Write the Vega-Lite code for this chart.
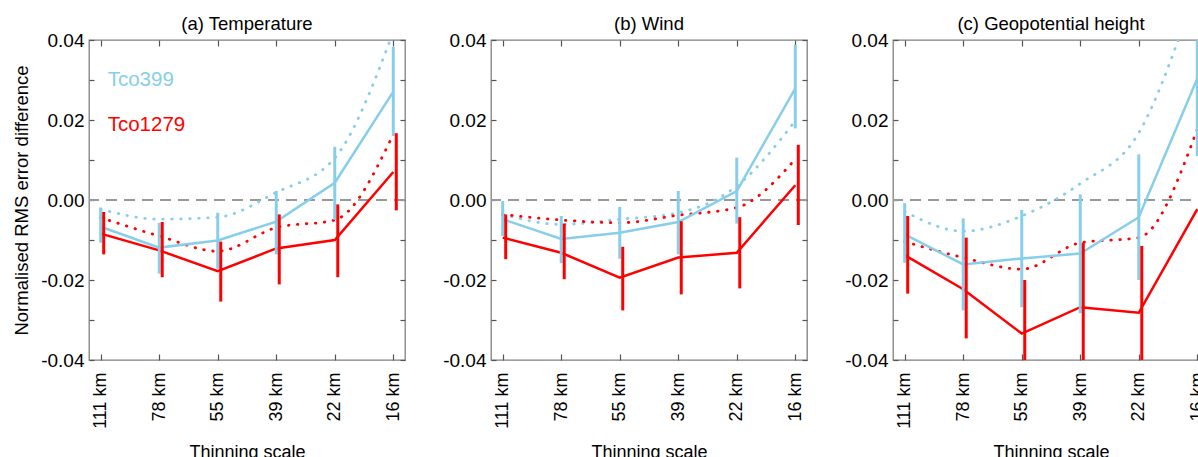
{
  "$schema": "https://vega.github.io/schema/vega-lite/v6.json",
  "autosize": {"type": "pad"},
  "padding": {"left": 12, "top": 13, "right": 0, "bottom": 0},
  "background": "white",
  "bounds": "flush",
  "spacing": 86,
  "config": {
    "font": "Liberation Sans",
    "view": {"stroke": "#808080", "strokeWidth": 1.3},
    "title": {"fontSize": 18.5, "fontWeight": "normal", "color": "black", "offset": -2, "baseline": "alphabetic", "anchor": "middle", "font": "Liberation Sans"},
    "axis": {"grid": false, "domain": false, "tickColor": "#555555", "tickWidth": 1.2, "labelColor": "black", "titleColor": "black", "titleFontWeight": "normal", "labelFont": "Liberation Sans", "titleFont": "Liberation Sans"}
  },
  "datasets": {
    "a": [
      {"model": "Tco399", "scale": "111 km", "mean": -0.0067, "lo": -0.0107, "hi": -0.0019, "dot": -0.0023},
      {"model": "Tco399", "scale": "78 km", "mean": -0.0119, "lo": -0.0184, "hi": -0.0057, "dot": -0.0048},
      {"model": "Tco399", "scale": "55 km", "mean": -0.0101, "lo": -0.0172, "hi": -0.0032, "dot": -0.0043},
      {"model": "Tco399", "scale": "39 km", "mean": -0.0054, "lo": -0.0136, "hi": 0.00225, "dot": 0.0019},
      {"model": "Tco399", "scale": "22 km", "mean": 0.0043, "lo": -0.0050, "hi": 0.0133, "dot": 0.0105},
      {"model": "Tco399", "scale": "16 km", "mean": 0.0271, "lo": 0.0160, "hi": 0.0383, "dot": 0.042},
      {"model": "Tco1279", "scale": "111 km", "mean": -0.0084, "lo": -0.0136, "hi": -0.0030, "dot": -0.0044},
      {"model": "Tco1279", "scale": "78 km", "mean": -0.0126, "lo": -0.0193, "hi": -0.0055, "dot": -0.0090},
      {"model": "Tco1279", "scale": "55 km", "mean": -0.0178, "lo": -0.0254, "hi": -0.0104, "dot": -0.0128},
      {"model": "Tco1279", "scale": "39 km", "mean": -0.0121, "lo": -0.0211, "hi": -0.0036, "dot": -0.0069},
      {"model": "Tco1279", "scale": "22 km", "mean": -0.0100, "lo": -0.0193, "hi": -0.0011, "dot": -0.0050},
      {"model": "Tco1279", "scale": "16 km", "mean": 0.0070, "lo": -0.0026, "hi": 0.0167, "dot": 0.0164}
    ],
    "b": [
      {"model": "Tco399", "scale": "111 km", "mean": -0.0048, "lo": -0.0090, "hi": -0.00025, "dot": -0.0036},
      {"model": "Tco399", "scale": "78 km", "mean": -0.00975, "lo": -0.0158, "hi": -0.0040, "dot": -0.0061},
      {"model": "Tco399", "scale": "55 km", "mean": -0.0082, "lo": -0.0147, "hi": -0.00175, "dot": -0.0048},
      {"model": "Tco399", "scale": "39 km", "mean": -0.0055, "lo": -0.0136, "hi": 0.00225, "dot": -0.0032},
      {"model": "Tco399", "scale": "22 km", "mean": 0.00225, "lo": -0.0059, "hi": 0.0106, "dot": 0.0035},
      {"model": "Tco399", "scale": "16 km", "mean": 0.0279, "lo": 0.0179, "hi": 0.0388, "dot": 0.0198},
      {"model": "Tco1279", "scale": "111 km", "mean": -0.0094, "lo": -0.0148, "hi": -0.0036, "dot": -0.0036},
      {"model": "Tco1279", "scale": "78 km", "mean": -0.0132, "lo": -0.0198, "hi": -0.0059, "dot": -0.0050},
      {"model": "Tco1279", "scale": "55 km", "mean": -0.0194, "lo": -0.0276, "hi": -0.0117, "dot": -0.0057},
      {"model": "Tco1279", "scale": "39 km", "mean": -0.0144, "lo": -0.0236, "hi": -0.0053, "dot": -0.0038},
      {"model": "Tco1279", "scale": "22 km", "mean": -0.0132, "lo": -0.0221, "hi": -0.0043, "dot": -0.0019},
      {"model": "Tco1279", "scale": "16 km", "mean": 0.0037, "lo": -0.00625, "hi": 0.0138, "dot": 0.0102}
    ],
    "c": [
      {"model": "Tco399", "scale": "111 km", "mean": -0.0086, "lo": -0.0157, "hi": -0.0008, "dot": -0.0029},
      {"model": "Tco399", "scale": "78 km", "mean": -0.0161, "lo": -0.0276, "hi": -0.0046, "dot": -0.0078},
      {"model": "Tco399", "scale": "55 km", "mean": -0.0146, "lo": -0.0268, "hi": -0.0025, "dot": -0.0040},
      {"model": "Tco399", "scale": "39 km", "mean": -0.0134, "lo": -0.0283, "hi": 0.0014, "dot": 0.0041},
      {"model": "Tco399", "scale": "22 km", "mean": -0.0043, "lo": -0.0200, "hi": 0.0114, "dot": 0.0168},
      {"model": "Tco399", "scale": "16 km", "mean": 0.0304, "lo": 0.0110, "hi": 0.0498, "dot": 0.054},
      {"model": "Tco1279", "scale": "111 km", "mean": -0.0138, "lo": -0.0234, "hi": -0.0040, "dot": -0.0104},
      {"model": "Tco1279", "scale": "78 km", "mean": -0.0223, "lo": -0.0346, "hi": -0.0094, "dot": -0.0144},
      {"model": "Tco1279", "scale": "55 km", "mean": -0.0334, "lo": -0.0468, "hi": -0.0200, "dot": -0.0173},
      {"model": "Tco1279", "scale": "39 km", "mean": -0.0268, "lo": -0.0429, "hi": -0.0107, "dot": -0.0107},
      {"model": "Tco1279", "scale": "22 km", "mean": -0.0282, "lo": -0.0449, "hi": -0.0115, "dot": -0.0094},
      {"model": "Tco1279", "scale": "16 km", "mean": -0.0023, "lo": -0.0205, "hi": 0.0156, "dot": 0.0177}
    ]
  },
  "hconcat": [
    {
      "width": 316, "height": 320,
      "title": {"text": "(a) Temperature"},
      "data": {"name": "a"},
      "resolve": {"axis": {"x": "independent", "y": "independent"}},
      "layer": [
        {
          "data": {"values": [{"z": 0}]},
          "mark": {"type": "rule", "color": "#999999", "strokeWidth": 2, "strokeDash": [11, 7]},
          "encoding": {"y": {"field": "z", "type": "quantitative", "scale": {"domain": [-0.04, 0.04], "nice": false, "zero": false}, "axis": null}}
        },
        {
          "mark": {"type": "line", "strokeDash": [0.5, 8.5], "strokeCap": "round", "strokeWidth": 2.8, "interpolate": "monotone", "clip": true},
          "encoding": {
            "x": {"field": "scale", "type": "ordinal", "sort": ["111 km", "78 km", "55 km", "39 km", "22 km", "16 km"], "scale": {"type": "point", "padding": 0.2},
              "axis": {"orient": "bottom", "title": "Thinning scale", "labelAngle": -90, "labelFontSize": 18, "tickSize": -6, "labelPadding": 18, "titleFontSize": 18, "titlePadding": 15}},
            "y": {"field": "dot", "type": "quantitative", "scale": {"domain": [-0.04, 0.04], "nice": false, "zero": false},
              "axis": {"orient": "left", "title": "Normalised RMS error difference", "titleFontSize": 18.5, "titlePadding": 9, "values": [-0.04, -0.03, -0.02, -0.01, 0, 0.01, 0.02, 0.03, 0.04], "labelExpr": "indexof([-0.04,-0.02,0,0.02,0.04], datum.value) >= 0 ? replace(format(datum.value, '.2f'), '\u2212', '-') : ''", "labelFontSize": 19, "tickSize": -5, "labelPadding": 10}},
            "color": {"field": "model", "type": "nominal", "scale": {"domain": ["Tco399", "Tco1279"], "range": ["#87CEEB", "#FF0000"]}, "legend": null}
          }
        },
        {
          "mark": {"type": "line", "strokeWidth": 2.5, "clip": true},
          "encoding": {
            "x": {"field": "scale", "type": "ordinal", "sort": ["111 km", "78 km", "55 km", "39 km", "22 km", "16 km"], "scale": {"type": "point", "padding": 0.2},
              "axis": {"orient": "top", "labels": false, "title": null, "tickSize": -6}},
            "y": {"field": "mean", "type": "quantitative", "scale": {"domain": [-0.04, 0.04], "nice": false, "zero": false},
              "axis": {"orient": "right", "labels": false, "title": null, "values": [-0.04, -0.03, -0.02, -0.01, 0, 0.01, 0.02, 0.03, 0.04], "tickSize": -5}},
            "color": {"field": "model", "type": "nominal", "scale": {"domain": ["Tco399", "Tco1279"], "range": ["#87CEEB", "#FF0000"]}, "legend": null}
          }
        },
        {
          "transform": [{"filter": "datum.model === 'Tco399'"}],
          "mark": {"type": "rule", "color": "#87CEEB", "strokeWidth": 3, "clip": true},
          "encoding": {
            "x": {"field": "scale", "type": "ordinal", "sort": ["111 km", "78 km", "55 km", "39 km", "22 km", "16 km"], "scale": {"type": "point", "padding": 0.2}, "axis": null},
            "y": {"field": "lo", "type": "quantitative", "scale": {"domain": [-0.04, 0.04], "nice": false, "zero": false}, "axis": null},
            "y2": {"field": "hi"}
          }
        },
        {
          "transform": [{"filter": "datum.model === 'Tco1279'"}],
          "mark": {"type": "rule", "color": "#FF0000", "strokeWidth": 3, "xOffset": 3, "clip": true},
          "encoding": {
            "x": {"field": "scale", "type": "ordinal", "sort": ["111 km", "78 km", "55 km", "39 km", "22 km", "16 km"], "scale": {"type": "point", "padding": 0.2}, "axis": null},
            "y": {"field": "lo", "type": "quantitative", "scale": {"domain": [-0.04, 0.04], "nice": false, "zero": false}, "axis": null},
            "y2": {"field": "hi"}
          }
        },
        {
          "data": {"values": [{"label": "Tco399", "yv": 0.0285}, {"label": "Tco1279", "yv": 0.01725}]},
          "mark": {"type": "text", "align": "left", "baseline": "alphabetic", "fontSize": 20.5, "dx": 7},
          "encoding": {
            "x": {"datum": "111 km", "type": "ordinal", "scale": {"type": "point", "padding": 0.2}, "axis": null},
            "y": {"field": "yv", "type": "quantitative", "scale": {"domain": [-0.04, 0.04], "nice": false, "zero": false}, "axis": null},
            "text": {"field": "label"},
            "color": {"field": "label", "type": "nominal", "scale": {"domain": ["Tco399", "Tco1279"], "range": ["#87CEEB", "#FF0000"]}, "legend": null}
          }
        }
      ]
    },
    {
      "width": 316, "height": 320,
      "title": {"text": "(b) Wind"},
      "data": {"name": "b"},
      "resolve": {"axis": {"x": "independent", "y": "independent"}},
      "layer": [
        {
          "data": {"values": [{"z": 0}]},
          "mark": {"type": "rule", "color": "#999999", "strokeWidth": 2, "strokeDash": [11, 7]},
          "encoding": {"y": {"field": "z", "type": "quantitative", "scale": {"domain": [-0.04, 0.04], "nice": false, "zero": false}, "axis": null}}
        },
        {
          "mark": {"type": "line", "strokeDash": [0.5, 8.5], "strokeCap": "round", "strokeWidth": 2.8, "interpolate": "monotone", "clip": true},
          "encoding": {
            "x": {"field": "scale", "type": "ordinal", "sort": ["111 km", "78 km", "55 km", "39 km", "22 km", "16 km"], "scale": {"type": "point", "padding": 0.2},
              "axis": {"orient": "bottom", "title": "Thinning scale", "labelAngle": -90, "labelFontSize": 18, "tickSize": -6, "labelPadding": 18, "titleFontSize": 18, "titlePadding": 15}},
            "y": {"field": "dot", "type": "quantitative", "scale": {"domain": [-0.04, 0.04], "nice": false, "zero": false},
              "axis": {"orient": "left", "title": null, "values": [-0.04, -0.03, -0.02, -0.01, 0, 0.01, 0.02, 0.03, 0.04], "labelExpr": "indexof([-0.04,-0.02,0,0.02,0.04], datum.value) >= 0 ? replace(format(datum.value, '.2f'), '\u2212', '-') : ''", "labelFontSize": 19, "tickSize": -5, "labelPadding": 10}},
            "color": {"field": "model", "type": "nominal", "scale": {"domain": ["Tco399", "Tco1279"], "range": ["#87CEEB", "#FF0000"]}, "legend": null}
          }
        },
        {
          "mark": {"type": "line", "strokeWidth": 2.5, "clip": true},
          "encoding": {
            "x": {"field": "scale", "type": "ordinal", "sort": ["111 km", "78 km", "55 km", "39 km", "22 km", "16 km"], "scale": {"type": "point", "padding": 0.2},
              "axis": {"orient": "top", "labels": false, "title": null, "tickSize": -6}},
            "y": {"field": "mean", "type": "quantitative", "scale": {"domain": [-0.04, 0.04], "nice": false, "zero": false},
              "axis": {"orient": "right", "labels": false, "title": null, "values": [-0.04, -0.03, -0.02, -0.01, 0, 0.01, 0.02, 0.03, 0.04], "tickSize": -5}},
            "color": {"field": "model", "type": "nominal", "scale": {"domain": ["Tco399", "Tco1279"], "range": ["#87CEEB", "#FF0000"]}, "legend": null}
          }
        },
        {
          "transform": [{"filter": "datum.model === 'Tco399'"}],
          "mark": {"type": "rule", "color": "#87CEEB", "strokeWidth": 3, "clip": true},
          "encoding": {
            "x": {"field": "scale", "type": "ordinal", "sort": ["111 km", "78 km", "55 km", "39 km", "22 km", "16 km"], "scale": {"type": "point", "padding": 0.2}, "axis": null},
            "y": {"field": "lo", "type": "quantitative", "scale": {"domain": [-0.04, 0.04], "nice": false, "zero": false}, "axis": null},
            "y2": {"field": "hi"}
          }
        },
        {
          "transform": [{"filter": "datum.model === 'Tco1279'"}],
          "mark": {"type": "rule", "color": "#FF0000", "strokeWidth": 3, "xOffset": 3, "clip": true},
          "encoding": {
            "x": {"field": "scale", "type": "ordinal", "sort": ["111 km", "78 km", "55 km", "39 km", "22 km", "16 km"], "scale": {"type": "point", "padding": 0.2}, "axis": null},
            "y": {"field": "lo", "type": "quantitative", "scale": {"domain": [-0.04, 0.04], "nice": false, "zero": false}, "axis": null},
            "y2": {"field": "hi"}
          }
        }
      ]
    },
    {
      "width": 316, "height": 320,
      "title": {"text": "(c) Geopotential height"},
      "data": {"name": "c"},
      "resolve": {"axis": {"x": "independent", "y": "independent"}},
      "layer": [
        {
          "data": {"values": [{"z": 0}]},
          "mark": {"type": "rule", "color": "#999999", "strokeWidth": 2, "strokeDash": [11, 7]},
          "encoding": {"y": {"field": "z", "type": "quantitative", "scale": {"domain": [-0.04, 0.04], "nice": false, "zero": false}, "axis": null}}
        },
        {
          "mark": {"type": "line", "strokeDash": [0.5, 8.5], "strokeCap": "round", "strokeWidth": 2.8, "interpolate": "monotone", "clip": true},
          "encoding": {
            "x": {"field": "scale", "type": "ordinal", "sort": ["111 km", "78 km", "55 km", "39 km", "22 km", "16 km"], "scale": {"type": "point", "padding": 0.2},
              "axis": {"orient": "bottom", "title": "Thinning scale", "labelAngle": -90, "labelFontSize": 18, "tickSize": -6, "labelPadding": 18, "titleFontSize": 18, "titlePadding": 15}},
            "y": {"field": "dot", "type": "quantitative", "scale": {"domain": [-0.04, 0.04], "nice": false, "zero": false},
              "axis": {"orient": "left", "title": null, "values": [-0.04, -0.03, -0.02, -0.01, 0, 0.01, 0.02, 0.03, 0.04], "labelExpr": "indexof([-0.04,-0.02,0,0.02,0.04], datum.value) >= 0 ? replace(format(datum.value, '.2f'), '\u2212', '-') : ''", "labelFontSize": 19, "tickSize": -5, "labelPadding": 10}},
            "color": {"field": "model", "type": "nominal", "scale": {"domain": ["Tco399", "Tco1279"], "range": ["#87CEEB", "#FF0000"]}, "legend": null}
          }
        },
        {
          "mark": {"type": "line", "strokeWidth": 2.5, "clip": true},
          "encoding": {
            "x": {"field": "scale", "type": "ordinal", "sort": ["111 km", "78 km", "55 km", "39 km", "22 km", "16 km"], "scale": {"type": "point", "padding": 0.2},
              "axis": {"orient": "top", "labels": false, "title": null, "tickSize": -6}},
            "y": {"field": "mean", "type": "quantitative", "scale": {"domain": [-0.04, 0.04], "nice": false, "zero": false},
              "axis": {"orient": "right", "labels": false, "title": null, "values": [-0.04, -0.03, -0.02, -0.01, 0, 0.01, 0.02, 0.03, 0.04], "tickSize": -5}},
            "color": {"field": "model", "type": "nominal", "scale": {"domain": ["Tco399", "Tco1279"], "range": ["#87CEEB", "#FF0000"]}, "legend": null}
          }
        },
        {
          "transform": [{"filter": "datum.model === 'Tco399'"}],
          "mark": {"type": "rule", "color": "#87CEEB", "strokeWidth": 3, "clip": true},
          "encoding": {
            "x": {"field": "scale", "type": "ordinal", "sort": ["111 km", "78 km", "55 km", "39 km", "22 km", "16 km"], "scale": {"type": "point", "padding": 0.2}, "axis": null},
            "y": {"field": "lo", "type": "quantitative", "scale": {"domain": [-0.04, 0.04], "nice": false, "zero": false}, "axis": null},
            "y2": {"field": "hi"}
          }
        },
        {
          "transform": [{"filter": "datum.model === 'Tco1279'"}],
          "mark": {"type": "rule", "color": "#FF0000", "strokeWidth": 3, "xOffset": 3, "clip": true},
          "encoding": {
            "x": {"field": "scale", "type": "ordinal", "sort": ["111 km", "78 km", "55 km", "39 km", "22 km", "16 km"], "scale": {"type": "point", "padding": 0.2}, "axis": null},
            "y": {"field": "lo", "type": "quantitative", "scale": {"domain": [-0.04, 0.04], "nice": false, "zero": false}, "axis": null},
            "y2": {"field": "hi"}
          }
        }
      ]
    }
  ]
}
